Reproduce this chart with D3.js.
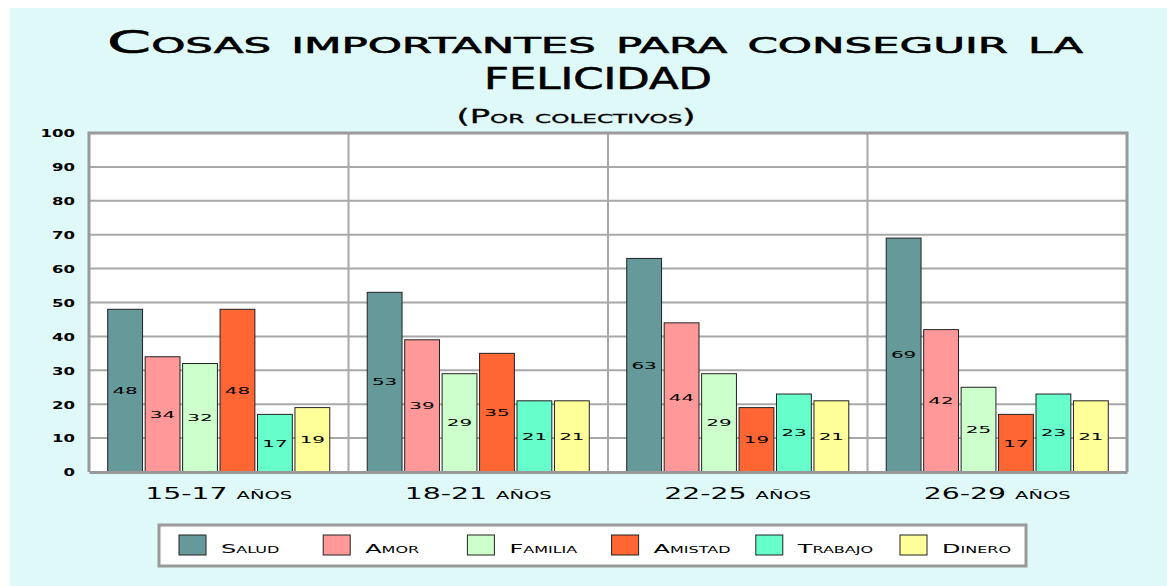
<!DOCTYPE html>
<html>
<head>
<meta charset="utf-8">
<script src="https://cdn.jsdelivr.net/npm/d3@7"></script>
<style>
  html, body { margin: 0; padding: 0; background: #ffffff; }
  svg { display: block; }
  text { font-family: "DejaVu Sans", sans-serif; font-variant: small-caps; fill: #000; }
</style>
</head>
<body>
<svg id="chart" width="1167" height="586"></svg>
<script>
// ---- data ----
const categories = ["15-17 años", "18-21 años", "22-25 años", "26-29 años"];
const seriesNames = ["Salud", "Amor", "Familia", "Amistad", "Trabajo", "Dinero"];
const salud   = [48, 53, 63, 69];
const amor    = [34, 39, 44, 42];
const familia = [32, 29, 29, 25];
const amistad = [48, 35, 19, 17];
const trabajo = [17, 21, 23, 23];
const dinero  = [19, 21, 21, 21];
const yTicks = [0, 10, 20, 30, 40, 50, 60, 70, 80, 90, 100];
const titleLines = ["Cosas importantes para conseguir la", "FELICIDAD"];
const subtitle = "(Por colectivos)";
const colors = ["#669999", "#FF9999", "#CCFFCC", "#FF6633", "#66FFCC", "#FFFF99"];

const seriesValues = [salud, amor, familia, amistad, trabajo, dinero];
const table = [];
categories.forEach((c, ci) => {
  seriesNames.forEach((s, si) => table.push({cat: c, series: s, si: si, value: seriesValues[si][ci]}));
});

// ---- layout ----
const svg = d3.select("#chart");
const W = 1167, H = 586;
const plot = {left: 89, right: 1127, top: 133, bottom: 472};

function fitWidth(sel, w) {
  sel.attr("textLength", w).attr("lengthAdjust", "spacingAndGlyphs");
}
function stretch(sel, f) {
  sel.each(function() {
    const n = this.getComputedTextLength();
    d3.select(this).attr("textLength", n * f).attr("lengthAdjust", "spacingAndGlyphs");
  });
}

// background
svg.append("rect").attr("x", 10).attr("y", 8).attr("width", W - 10).attr("height", H - 8).attr("fill", "#dff8f8");

// title
svg.append("text").attr("x", 595).attr("y", 53).attr("text-anchor", "middle")
  .attr("font-size", 32).attr("stroke", "#000").attr("stroke-width", 0.6)
  .text(titleLines[0]).call(fitWidth, 976);
svg.append("text").attr("x", 598).attr("y", 89).attr("text-anchor", "middle")
  .attr("font-size", 30).attr("stroke", "#000").attr("stroke-width", 0.6)
  .text(titleLines[1]).call(fitWidth, 228);
svg.append("text").attr("x", 576).attr("y", 123).attr("text-anchor", "middle")
  .attr("font-size", 19).attr("stroke", "#000").attr("stroke-width", 0.3)
  .text(subtitle).call(fitWidth, 239);

// scales
const x0 = d3.scaleBand().domain(categories).range([plot.left, plot.right]).paddingInner(0).paddingOuter(0);
const x1 = d3.scaleBand().domain(seriesNames).range([0, x0.bandwidth()]).paddingInner(0.07).paddingOuter(0.5);
const y = d3.scaleLinear().domain([0, 100]).range([plot.bottom, plot.top]);
const color = d3.scaleOrdinal().domain(seriesNames).range(colors);

// plot background
svg.append("rect").attr("x", plot.left).attr("y", plot.top)
  .attr("width", plot.right - plot.left).attr("height", plot.bottom - plot.top).attr("fill", "#ffffff");

// horizontal gridlines
svg.append("g").selectAll("line").data(yTicks.filter(t => t > 0 && t < 100)).join("line")
  .attr("x1", plot.left).attr("x2", plot.right)
  .attr("y1", d => y(d)).attr("y2", d => y(d))
  .attr("stroke", "#a8a8a8").attr("stroke-width", 2);

// vertical separators
svg.append("g").selectAll("line").data(categories.slice(1)).join("line")
  .attr("x1", d => x0(d)).attr("x2", d => x0(d))
  .attr("y1", plot.top).attr("y2", plot.bottom)
  .attr("stroke", "#a8a8a8").attr("stroke-width", 2);

// frame (top, left, right)
svg.append("path")
  .attr("d", `M${plot.left},${plot.bottom}V${plot.top}H${plot.right}V${plot.bottom}`)
  .attr("fill", "none").attr("stroke", "#999999").attr("stroke-width", 3);

// y axis labels
const yAxis = d3.axisLeft(y).tickValues(yTicks).tickSize(0).tickPadding(14);
const yg = svg.append("g").attr("transform", `translate(${plot.left},0)`).call(yAxis);
yg.select(".domain").remove();
yg.selectAll("text").attr("font-size", 11).attr("font-weight", "bold")
  .attr("font-family", "DejaVu Sans").attr("fill", "#000").attr("dy", "0.35em").call(stretch, 1.5);

// bars
const bars = svg.append("g");
bars.selectAll("rect").data(table).join("rect")
  .attr("x", d => x0(d.cat) + x1(d.series))
  .attr("y", d => y(d.value))
  .attr("width", x1.bandwidth())
  .attr("height", d => y(0) - y(d.value))
  .attr("fill", d => color(d.series))
  .attr("stroke", "#222").attr("stroke-width", 1);

// value labels
svg.append("g").selectAll("text").data(table).join("text")
  .attr("x", d => x0(d.cat) + x1(d.series) + x1.bandwidth() / 2)
  .attr("y", d => (y(d.value) + y(0)) / 2)
  .attr("dy", "0.35em")
  .attr("text-anchor", "middle")
  .attr("font-size", 9.5)
  .text(d => d.value)
  .call(stretch, 2.1);

// x axis
const xAxis = d3.axisBottom(x0).tickSize(0).tickPadding(16);
const xg = svg.append("g").attr("transform", `translate(0,${plot.bottom})`).call(xAxis);
xg.select(".domain").attr("stroke", "#999999").attr("stroke-width", 3);
xg.selectAll("text").attr("font-size", 16).attr("font-family", "DejaVu Sans").attr("fill", "#000")
  .attr("dy", "0.71em").call(stretch, 1.77);

// legend
const legend = svg.append("g");
legend.append("rect").attr("x", 159).attr("y", 525).attr("width", 867).attr("height", 41)
  .attr("fill", "#ffffff").attr("stroke", "#999999").attr("stroke-width", 3);
const items = legend.selectAll("g.item").data(seriesNames).join("g").attr("class", "item")
  .attr("transform", (d, i) => `translate(${179 + i * 144.2},535)`);
items.append("rect").attr("width", 27).attr("height", 20)
  .attr("fill", d => color(d)).attr("stroke", "#222").attr("stroke-width", 1);
items.append("text").attr("x", 42).attr("y", 18).attr("font-size", 12).text(d => d).call(stretch, 2.0);
</script>
</body>
</html>
